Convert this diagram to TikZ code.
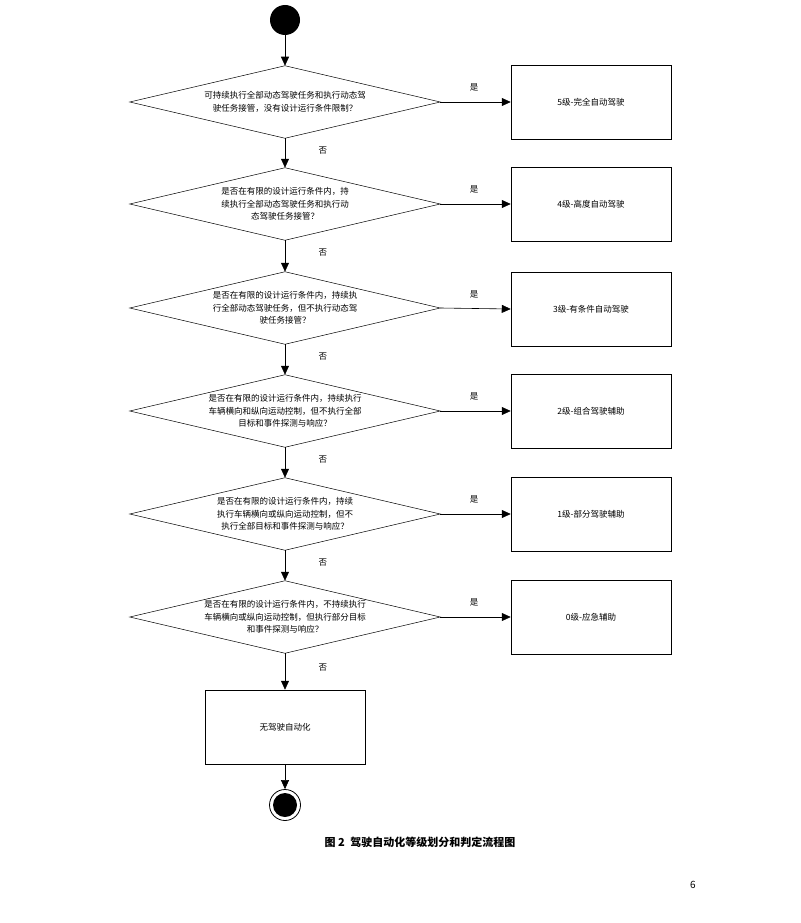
\documentclass[tikz,border=0pt]{standalone}
\usepackage{fontspec}
\setmainfont{Noto Sans CJK SC}
\usetikzlibrary{arrows.meta}
\begin{document}
\begin{tikzpicture}[x=1pt,y=-1pt,
  dec/.style={inner sep=0pt,minimum width=310pt,minimum height=72pt,align=center,font=\fontsize{8.5}{12.5}\selectfont},
  lvl/.style={draw,inner sep=0pt,minimum width=160pt,minimum height=74pt,font=\fontsize{8.5}{11}\selectfont},
  lbl/.style={font=\fontsize{8.5}{10}\selectfont},
  arr/.style={-{Triangle[length=9pt,width=8pt]},line width=0.6pt},
  every path/.style={line width=0.5pt}]
\useasboundingbox (0,0) rectangle (800,923);
\fill (285,20) circle (15) node (s) {};
\coordinate (sb) at (285,35);
\foreach \i/\y/\t in {1/102/{可持续执行全部动态驾驶任务和执行动态驾\\驶任务接管，没有设计运行条件限制？},
  2/204/{是否在有限的设计运行条件内，持\\续执行全部动态驾驶任务和执行动\\态驾驶任务接管？},
  3/308/{是否在有限的设计运行条件内，持续执\\行全部动态驾驶任务，但不执行动态驾\\驶任务接管？},
  4/411/{是否在有限的设计运行条件内，持续执行\\车辆横向和纵向运动控制，但不执行全部\\目标和事件探测与响应？},
  5/514/{是否在有限的设计运行条件内，持续\\执行车辆横向或纵向运动控制，但不\\执行全部目标和事件探测与响应？},
  6/617/{是否在有限的设计运行条件内，不持续执行\\车辆横向或纵向运动控制，但执行部分目标\\和事件探测与响应？}}{
  \node[dec] (d\i) at (285,\y) {\t};
  \draw (d\i.west)--(d\i.north)--(d\i.east)--(d\i.south)--cycle;
}
\foreach \i/\y/\t in {1/102/5级-完全自动驾驶,2/204/4级-高度自动驾驶,3/309/3级-有条件自动驾驶,4/411/2级-组合驾驶辅助,5/514/1级-部分驾驶辅助,6/617/0级-应急辅助}{
  \node[lvl] (b\i) at (591,\y) {\t};
  \draw[arr] (d\i.east) -- (b\i.west);
  \node[lbl] at (474,\y-15) {是};
}
\node[lvl] (e) at (285,727) {无驾驶自动化};
\draw[arr] (sb) -- (d1.north);
\foreach \a/\b in {1/2,2/3,3/4,4/5,5/6}{
  \draw[arr] (d\a.south) -- node[lbl,right=30pt,pos=0.4]{否} (d\b.north);
}
\draw[arr] (d6.south) -- node[lbl,right=30pt,pos=0.4]{否} (e.north);
\node[circle,draw,line width=0.8pt,minimum size=31pt,inner sep=0pt] (f) at (285,805) {};
\fill (f) circle (12);
\draw[arr] (e.south) -- (f.north);
\node[font=\fontsize{11}{13}\selectfont\bfseries] (cap) at (420,842) {图 2\enspace 驾驶自动化等级划分和判定流程图};
\node[font=\fontsize{10}{12}\selectfont] (pg) at (693,885) {6};
\end{tikzpicture}
\end{document}
